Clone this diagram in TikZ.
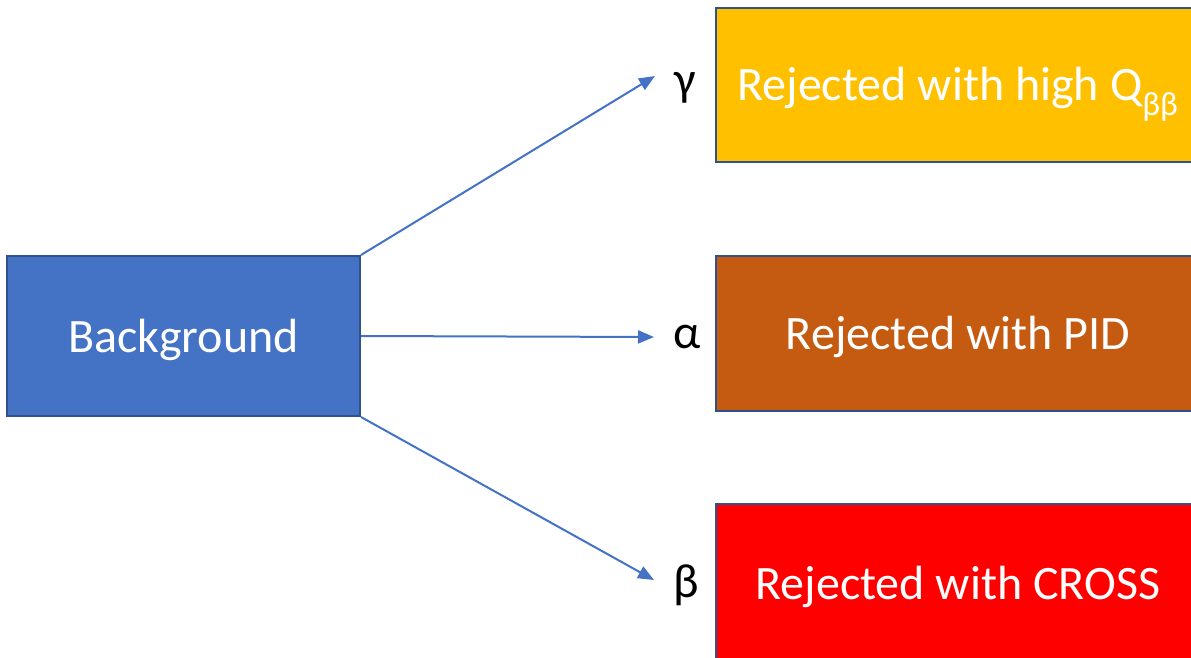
\documentclass[tikz,border=0pt]{standalone}
\usepackage{fontspec}
\setmainfont{Carlito}
\usetikzlibrary{arrows.meta}
\definecolor{accblue}{HTML}{4472C4}
\definecolor{edgeblue}{HTML}{2F528F}
\definecolor{goldbox}{HTML}{FFC000}
\definecolor{rustbox}{HTML}{C55A11}
\definecolor{redbox}{HTML}{FF0000}
\tikzset{
  box/.style={draw=edgeblue, line width=2pt, text=white, inner sep=0pt,
    text height=40pt, text depth=8pt, font=\fontsize{48}{56}\selectfont},
  link/.style={draw=accblue, line width=2pt, -{Triangle[length=16pt,width=13pt]}},
  greek/.style={text=black, font=\fontsize{48}{56}\selectfont}
}
\begin{document}
\begin{tikzpicture}[x=1pt,y=-1pt]
\useasboundingbox (0,0) rectangle (1191,658);
\begin{scope}
\clip (0,0) rectangle (1191,658);
\node[box, fill=accblue, minimum width=353pt, minimum height=160pt] (bg) at (183.5,336) {Background};
\node[box, fill=goldbox, minimum width=484pt, minimum height=154pt] (hq) at (958,85) {Rejected with high Q\textsubscript{ββ}};
\node[box, fill=rustbox, minimum width=484pt, minimum height=155pt] (pid) at (958,333.5) {Rejected with PID};
\node[box, fill=redbox, minimum width=484pt, minimum height=158pt] (cross) at (958,583) {Rejected with CROSS};
\end{scope}
\node[greek] (gam) at (685,88) {γ};
\node[greek] (alp) at (687,337) {α};
\node[greek] (bet) at (686,585) {β};
\coordinate (gtip) at (655,76);
\coordinate (atip) at (654,337);
\coordinate (btip) at (654,580);
\draw[link] (bg.north east) -- (gtip);
\draw[link] (bg.east) -- (atip);
\draw[link] (bg.south east) -- (btip);
\end{tikzpicture}
\end{document}
